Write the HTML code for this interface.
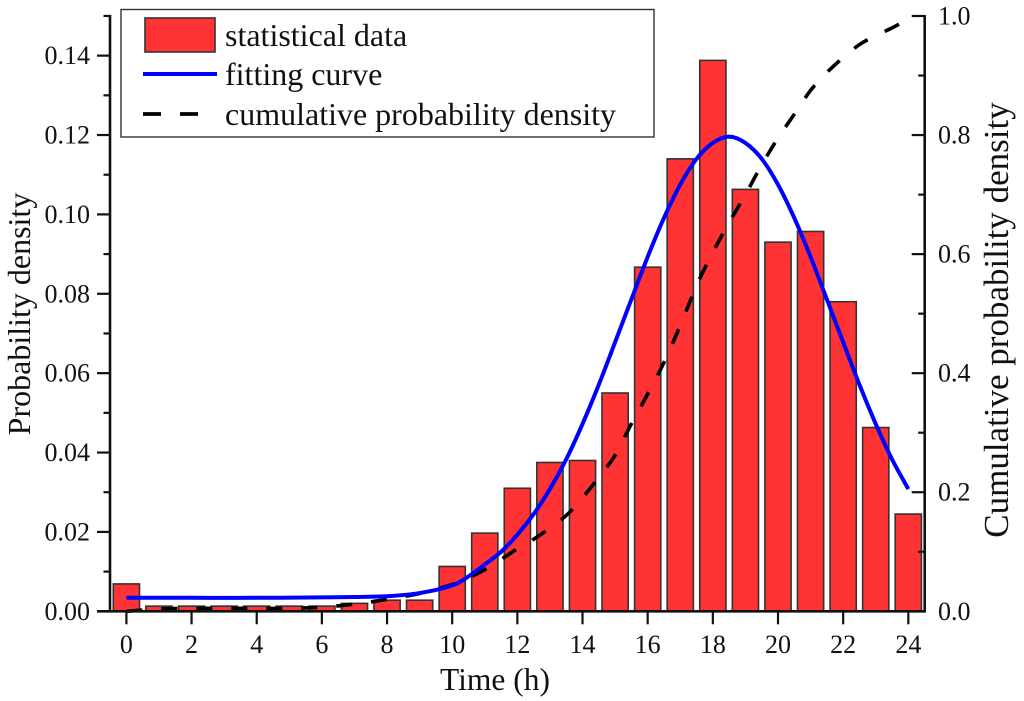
<!DOCTYPE html>
<html>
<head>
<meta charset="utf-8">
<style>
html,body{margin:0;padding:0;background:#fff;width:1024px;height:701px;overflow:hidden}
svg{display:block;filter:blur(0.35px)}
text{font-family:"Liberation Serif",serif;fill:#111}
</style>
</head>
<body>
<svg id="chart" width="1024" height="701" viewBox="0 0 1024 701" xmlns="http://www.w3.org/2000/svg">
  <g id="bars"></g>
  <path id="cum" fill="none" stroke="#000" stroke-width="3.6" stroke-dasharray="16 19"/>
  <path id="fit" fill="none" stroke="#0000ff" stroke-width="4" stroke-linejoin="round"/>
  <g id="axes" stroke="#111" fill="none"></g>
  <g id="labels"></g>
  <text x="495" y="690" font-size="31.5" text-anchor="middle">Time (h)</text>
  <text transform="translate(30,314) rotate(-90)" font-size="32" text-anchor="middle">Probability density</text>
  <text transform="translate(1008,320) rotate(-90)" font-size="35" text-anchor="middle">Cumulative probability density</text>
  <g>
    <rect x="121" y="9.5" width="533" height="127.5" fill="#fff" stroke="#333" stroke-width="1.4"/>
    <rect x="145" y="18" width="70" height="34" fill="#ff3333" stroke="#333" stroke-width="1.6"/>
    <line x1="143" y1="74" x2="217" y2="74" stroke="#0000ff" stroke-width="4"/>
    <line x1="143" y1="114" x2="198" y2="114" stroke="#000" stroke-width="3.8" stroke-dasharray="18 19"/>
    <text x="225" y="46" font-size="32">statistical data</text>
    <text x="225" y="85" font-size="32">fitting curve</text>
    <text x="225" y="125" font-size="32">cumulative probability density</text>
  </g>
</svg>
<script>
const barHours = [0,1,2,3,4,5,6,7,8,9,10,11,12,13,14,15,16,17,18,19,20,21,22,23,24];
const barValues = [0.0069,0.0013,0.0013,0.0013,0.0013,0.0013,0.0013,0.002,0.0028,0.0028,0.0113,0.0197,0.031,0.0375,0.038,0.055,0.0867,0.114,0.1388,0.1063,0.093,0.0957,0.078,0.0463,0.0245];
const fitHours = [0,2,4,6,7,8,9,10,10.5,11,11.5,12,12.5,13,13.5,14,14.5,15,15.5,16,16.5,17,17.5,18,18.5,19,19.5,20,20.5,21,21.5,22,22.5,23,23.5,24];
const fitValues = [0.0034,0.0034,0.0034,0.0035,0.0036,0.0038,0.0046,0.0065,0.0088,0.0118,0.015,0.0193,0.0245,0.0308,0.0383,0.0472,0.0571,0.0678,0.0786,0.0893,0.0991,0.1075,0.114,0.118,0.1196,0.118,0.114,0.1075,0.0991,0.0893,0.0786,0.0678,0.0571,0.0472,0.0383,0.0308];
const cumHours = [0,1,2,3,4,5,6,7,8,9,10,10.5,11,11.5,12,12.5,13,13.5,14,14.5,15,15.5,16,16.5,17,17.5,18,18.5,19,19.5,20,20.5,21,21.5,22,22.5,23,23.5,24];
const cumValues = [0,0.004,0.005,0.005,0.005,0.005,0.007,0.012,0.02,0.03,0.045,0.056,0.07,0.087,0.105,0.121,0.14,0.161,0.191,0.225,0.262,0.315,0.365,0.418,0.48,0.547,0.603,0.653,0.7,0.75,0.795,0.835,0.875,0.905,0.93,0.952,0.967,0.98,0.995];
const xTickLabels = ["0","2","4","6","8","10","12","14","16","18","20","22","24"];
const leftTickLabels = ["0.00","0.02","0.04","0.06","0.08","0.10","0.12","0.14"];
const rightTickLabels = ["0.0","0.2","0.4","0.6","0.8","1.0"];

const SVG_NS = "http://www.w3.org/2000/svg";
const xAxis = t => 126.4 + 32.58 * t;
const yLeft = v => 611.3 - 3969 * v;
const yRight = v => 611.3 - 595.3 * v;
const axesGroup = document.getElementById("axes");
const labelGroup = document.getElementById("labels");
const barGroup = document.getElementById("bars");

function addLine(x1, y1, x2, y2, width) {
  const l = document.createElementNS(SVG_NS, "line");
  l.setAttribute("x1", x1);
  l.setAttribute("y1", y1);
  l.setAttribute("x2", x2);
  l.setAttribute("y2", y2);
  l.setAttribute("stroke-width", width);
  
  
  axesGroup.appendChild(l);
}
function addLabel(x, y, txt, anchor) {
  const t = document.createElementNS(SVG_NS, "text");
  t.setAttribute("x", x);
  t.setAttribute("y", y);
  t.setAttribute("font-size", "26");
  t.setAttribute("text-anchor", anchor);
  
  
  t.textContent = txt;
  labelGroup.appendChild(t);
}

barHours.forEach((h, i) => {
  const top = yLeft(barValues[i]);
  const r = document.createElementNS(SVG_NS, "rect");
  r.setAttribute("x", xAxis(h) - 13.1);
  r.setAttribute("y", top);
  r.setAttribute("width", 26.2);
  r.setAttribute("height", yLeft(0) - top);
  r.setAttribute("fill", "#ff3333");
  r.setAttribute("stroke", "#333");
  r.setAttribute("stroke-width", "1.6");
  
  
  barGroup.appendChild(r);
});

function smoothPath(xs, ys) {
  const pts = xs.map((x, i) => [x, ys[i]]);
  let d = "M" + pts[0][0].toFixed(2) + " " + pts[0][1].toFixed(2);
  for (let i = 0; i < pts.length - 1; i++) {
    const p0 = pts[Math.max(i - 1, 0)], p1 = pts[i], p2 = pts[i + 1], p3 = pts[Math.min(i + 2, pts.length - 1)];
    const c1x = p1[0] + (p2[0] - p0[0]) / 6, c1y = p1[1] + (p2[1] - p0[1]) / 6;
    const c2x = p2[0] - (p3[0] - p1[0]) / 6, c2y = p2[1] - (p3[1] - p1[1]) / 6;
    d += "C" + c1x.toFixed(2) + " " + c1y.toFixed(2) + " " + c2x.toFixed(2) + " " + c2y.toFixed(2) + " " + p2[0].toFixed(2) + " " + p2[1].toFixed(2);
  }
  return d;
}
document.getElementById("fit").setAttribute("d", smoothPath(fitHours.map(xAxis), fitValues.map(yLeft)));
document.getElementById("cum").setAttribute("d", smoothPath(cumHours.map(xAxis), cumValues.map(yRight)));

const leftX = 110, rightX = 924.7, baseY = yLeft(0), topY = yRight(1);
addLine(leftX, topY - 1, leftX, baseY + 1, 2.6);
addLine(rightX, topY - 1, rightX, baseY + 1, 2.6);
addLine(97, baseY, rightX + 1, baseY, 2.6);

xTickLabels.forEach(s => {
  const x = xAxis(parseFloat(s));
  addLine(x, baseY, x, baseY + 13, 2.2);
  addLabel(x, 653, s, "middle");
});
leftTickLabels.forEach(s => {
  const y = yLeft(parseFloat(s));
  if (parseFloat(s) > 0) addLine(97, y, leftX, y, 2.2);
  addLabel(90, y + 8.5, s, "end");
  addLine(103.5, yLeft(parseFloat(s) + 0.01), leftX, yLeft(parseFloat(s) + 0.01), 2.2);
});
rightTickLabels.forEach((s, i) => {
  const y = yRight(parseFloat(s));
  if (i > 0) addLine(rightX - 13, y, rightX, y, 2.2);
  addLabel(938, y + 8.5, s, "start");
  if (i < rightTickLabels.length - 1) {
    const m = yRight(parseFloat(s) + 0.1);
    addLine(rightX - 6.5, m, rightX, m, 2.2);
  }
});
</script>
</body>
</html>
